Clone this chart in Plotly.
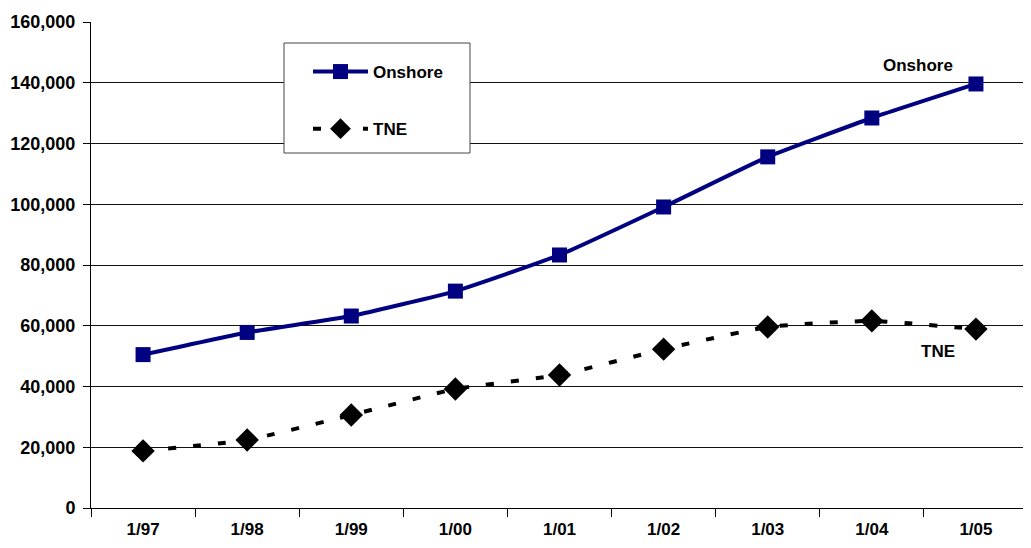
import plotly.graph_objects as go

categories = ["1/97", "1/98", "1/99", "1/00", "1/01", "1/02", "1/03", "1/04", "1/05"]
onshore = [50500, 57800, 63200, 71400, 83300, 99100, 115600, 128400, 139600]
tne = [18800, 22400, 30600, 39200, 43800, 52300, 59600, 61600, 58900]
y_ticks = [0, 20000, 40000, 60000, 80000, 100000, 120000, 140000, 160000]

FONT = "Liberation Sans, Arial, sans-serif"
BOLD = dict(family=FONT, size=17, color="#000", weight="bold")
BOLD_Y = dict(family=FONT, size=18, color="#000", weight="bold")

fig = go.Figure()
fig.add_trace(go.Scatter(
    x=categories, y=onshore, name="Onshore", mode="lines+markers",
    line=dict(color="#000080", width=4, shape="spline", smoothing=0.4),
    marker=dict(symbol="square", size=15, color="#000080"),
    legendgroup="a",
))
fig.add_trace(go.Scatter(
    x=categories, y=tne, name="TNE", mode="lines+markers",
    line=dict(color="#000000", width=4, dash="8px,17px", shape="spline", smoothing=0.4),
    marker=dict(symbol="diamond", size=18, color="#000000"),
    legendgroup="b",
))

fig.add_annotation(x="1/05", y=onshore[-1], xref="x", yref="y", text="Onshore",
                   showarrow=False, xshift=-58, yshift=18, font=BOLD)
fig.add_annotation(x="1/05", y=tne[-1], xref="x", yref="y", text="TNE",
                   showarrow=False, xshift=-38, yshift=-22, font=BOLD)

# plot area in page pixels: left 91, right 1028, top 22, bottom 508 (page has 8px body margin)
PW, PH = 937, 486
fig.add_shape(type="rect", xref="paper", yref="paper",
              x0=(284 - 91) / PW, x1=(470 - 91) / PW,
              y0=(508 - 153) / PH, y1=(508 - 43) / PH,
              line=dict(color="#444", width=1), fillcolor="white", layer="above")

fig.update_layout(
    width=1023, height=540,
    margin=dict(l=83, r=3, t=14, b=40),
    paper_bgcolor="white", plot_bgcolor="white",
    font=BOLD,
    showlegend=True,
    legend=dict(
        x=(308 - 91) / PW, y=(508 - 54) / PH, xanchor="left", yanchor="top",
        bgcolor="rgba(0,0,0,0)", borderwidth=0,
        font=BOLD,
        itemwidth=55, tracegroupgap=32,
        traceorder="grouped",
    ),
    xaxis=dict(
        type="category", categoryorder="array", categoryarray=categories,
        range=[-0.5, 8.5], tickson="boundaries", ticks="outside", ticklen=8,
        tickcolor="#000", showline=True, linecolor="#000", linewidth=1,
        showgrid=False, tickfont=BOLD, automargin=False, ticklabelstandoff=6,
    ),
    yaxis=dict(
        range=[0, 160000], tickvals=y_ticks, tickformat=",",
        ticks="outside", ticklen=7, tickcolor="#000",
        showline=True, linecolor="#000", linewidth=1,
        showgrid=True, gridcolor="#111", gridwidth=1, zeroline=False,
        tickfont=BOLD_Y, automargin=False, ticklabelstandoff=4,
    ),
)

fig.write_html("out.html")
